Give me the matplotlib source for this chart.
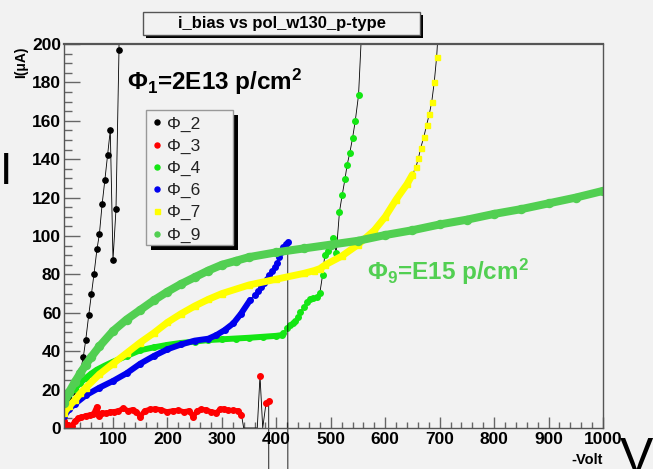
import matplotlib.pyplot as plt
from matplotlib.lines import Line2D
from matplotlib.patches import Rectangle
from matplotlib.ticker import MultipleLocator
from matplotlib.transforms import Bbox, TransformedBbox

plt.rcParams['font.family'] = ['Liberation Sans', 'DejaVu Sans']
plt.rcParams['mathtext.fontset'] = 'custom'
plt.rcParams['mathtext.rm'] = 'Liberation Sans'
plt.rcParams['mathtext.bf'] = 'Liberation Sans:bold'

# bias voltage (-V) and bias current (uA) for each fluence
v_phi2 = [10, 15, 20, 25, 30, 35, 40.5, 45.5, 50, 55.5, 60.5, 65, 70.5, 75, 80, 85, 90, 95, 100, 105.5, 111, 112.5]
i_phi2 = [8, 11, 15, 19, 23, 27, 30, 37, 46, 59, 70, 80, 93, 101, 116.5, 129, 142, 155, 87.5, 114, 197, 320]

v_phi3 = [10, 14, 18, 24, 30, 36, 42, 50, 58, 64, 70, 74, 80, 88, 95, 101, 110, 119, 128, 136, 143, 150, 158, 168,
          178, 188, 199, 210, 220, 230, 240, 247, 255, 262, 270, 280, 290, 297, 303, 312, 321, 330, 336, 340, 350, 365,
          370, 375, 381, 386, 388]
i_phi3 = [3.5, 1.8, 1.5, 1.2, 3.5, 5, 5.5, 6.5, 6.8, 7.2, 11, 6, 8, 7.6, 8.5, 8.5, 9, 10.2, 9, 9.6, 8.5, 5.9, 9, 9.7,
          10, 9.5, 8.5, 9, 9.2, 8.5, 9, 5.9, 9, 9.7, 9.5, 8.5, 8, 9.8, 10, 9.2, 9.2, 9, 6.8, 0, 0, 0,
          27.2, 0, 12.8, 14.2, -600]

v_phi4 = [10, 20, 30, 40, 50, 60, 70, 85, 100, 125, 150, 175, 200, 225, 250, 275, 300, 325, 350, 375, 400, 410,
          413, 419, 425, 430, 434, 440, 444, 450, 456, 462, 468, 474, 480, 485, 489, 495, 505, 510, 516, 521, 526,
          530, 535, 540, 545, 551, 558]
i_phi4 = [13.5, 17.5, 20.5, 23.5, 26, 28.3, 30.3, 32.5, 34.5, 37.5, 40.5, 42, 43.3, 44.3, 45, 45.8, 46.2, 46.6, 47,
          47.5, 48, 48.4, 49.5, 52, 53.5, 54.5, 55.5, 58, 60.6, 63, 65.8, 67, 67.5, 68.4, 70.5, 79.7, 90, 92.3, 99,
          91, 112.7, 121.4, 129.5, 137, 143.4, 151, 160, 173.4, 215]

v_phi6 = [10, 20, 30, 50, 75, 100, 125, 150, 175, 200, 225, 250, 275, 290, 305, 321, 335, 352, 360, 366, 371, 377,
          382, 387, 392, 397, 401, 405, 409, 413, 417, 421, 422]
i_phi6 = [6, 10, 12.5, 17, 21, 24.5, 28.5, 33.5, 37.5, 41, 43.5, 45.5, 46.5, 48.4, 51, 54.5, 59.5, 66.7, 69.5,
          71.5, 73.5, 75.5, 77.5, 79.5, 82, 84, 86, 89, 91.5, 94.4, 96, 97, -600]

v_phi7 = [10, 20, 30, 40, 50, 75, 100, 125, 150, 175, 200, 225, 250, 275, 300, 350, 400, 450, 470, 480, 490, 520,
          550, 580, 600, 620, 640, 650, 656.5, 661, 665, 671, 676, 681, 685.5, 690, 694.5, 699]
i_phi7 = [8, 11.5, 14.5, 18, 21, 28, 33.5, 39, 44.5, 49.5, 55, 59.5, 63.5, 67, 70, 74.5, 77.5, 80.5, 82, 83, 85,
          89.5, 95.5, 103, 110, 119, 127, 132, 136, 140.5, 145.7, 151.7, 157.8, 163.5, 170, 180, 193.4, 215]

v_phi9 = [10, 20, 30, 40, 50, 60, 75, 100, 125, 150, 175, 200, 225, 250, 275, 300, 325, 350, 400, 450, 500, 550,
          600, 650, 700, 750, 800, 850, 900, 950, 1000]
i_phi9 = [13, 19, 24, 28.5, 33, 37, 42.5, 50.5, 56.5, 61.5, 66.5, 71, 75, 78.5, 82, 85, 87, 89, 91.5, 93.5, 95.5,
          97.5, 100.5, 103, 106, 108.5, 111.5, 114, 117, 120, 123.5]

names = ['Φ_2', 'Φ_3', 'Φ_4', 'Φ_6', 'Φ_7', 'Φ_9']
x_ticks = [100, 200, 300, 400, 500, 600, 700, 800, 900, 1000]
y_ticks = [0, 20, 40, 60, 80, 100, 120, 140, 160, 180, 200]

W, H = 653, 469
BG = '#f2f2f2'
PHI9_GREEN = '#52cf52'


def px(x, y):
    # pixel position measured from the top left corner -> figure fraction
    return x / W, 1 - y / H


def box(x0, y0, x1, y1, **kw):
    fx, fy = px(x0, y1)
    fig.add_artist(Rectangle((fx, fy), (x1 - x0) / W, (y1 - y0) / H, transform=fig.transFigure, **kw))


fig = plt.figure(figsize=(W / 100, H / 100), dpi=100, facecolor=BG)
ax = fig.add_axes([64 / W, 1 - 428 / H, 539 / W, 384 / H], facecolor=BG)
ax.set_xlim(10, 1000)
ax.set_ylim(0, 200)

# the joining lines may leave through the bottom of the frame, not the top
below = TransformedBbox(Bbox.from_extents(0, -3, 1, 1), ax.transAxes)


def draw(v, i, color, marker, ms, band, dense_to):
    line, = ax.plot(v, i, color='black', lw=0.6)
    line.set_clip_box(below)
    # closely spaced points merge into one thick band
    n = len([x for x in v if x <= dense_to])
    if n > 1:
        ax.plot(v[:n], i[:n], color=color, lw=band, solid_capstyle='round', solid_joinstyle='round')
    # points sitting on or under zero are hidden by the frame
    shown = [(x, y) for x, y in zip(v, i) if y > 0]
    ax.plot([p[0] for p in shown], [p[1] for p in shown], ls='none', marker=marker, ms=ms, color=color, mec=color)


draw(v_phi2, i_phi2, 'black', 'o', 3.8, 0, 0)
draw(v_phi3, i_phi3, '#ff0000', 'o', 4, 3.6, 337)
draw(v_phi4, i_phi4, '#14e614', 'o', 4, 4.3, 411)
draw(v_phi6, i_phi6, '#0000ee', 'o', 4, 4.3, 355)
draw(v_phi7, i_phi7, '#ffff00', 's', 3.6, 5, 652)
draw(v_phi9, i_phi9, PHI9_GREEN, 'o', 5.8, 5.8, 1000)

# ROOT-style frame and inward ticks
for side in ax.spines.values():
    side.set_color('#555555')
    side.set_linewidth(1)
ax.spines['top'].set_linewidth(1.6)
ax.set_xticks(x_ticks, [str(t) for t in x_ticks], fontweight='bold', fontsize=12.5)
ax.set_yticks(y_ticks, [str(t) for t in y_ticks], fontweight='bold', fontsize=12.5)
ax.xaxis.set_minor_locator(MultipleLocator(20))
ax.yaxis.set_minor_locator(MultipleLocator(5))
ax.tick_params(axis='x', which='major', direction='in', length=8, width=1, color='#666666', pad=3)
ax.tick_params(axis='x', which='minor', direction='in', length=4.3, width=1, color='#666666')
ax.tick_params(axis='y', which='major', direction='in', length=11.5, width=1, color='#666666', pad=2)
ax.tick_params(axis='y', which='minor', direction='in', length=5.8, width=1, color='#666666')

# axis titles
fig.text(*px(21, 46), 'I(μA)', rotation=90, ha='center', va='top', fontsize=10, fontweight='bold')
fig.text(*px(603, 464), '-Volt', ha='right', va='baseline', fontsize=10.5, fontweight='bold')
fig.text(*px(0, 184), 'I', ha='left', va='baseline', fontsize=32)
fig.text(*px(620, 473), 'V', ha='left', va='baseline', fontsize=36)

# title box with shadow
box(146, 15, 423, 38, facecolor='black', edgecolor='none')
box(143, 12, 420, 35, facecolor=BG, edgecolor='#555555', lw=1)
fig.text(*px(281.5, 28), 'i_bias vs pol_w130_p-type', ha='center', va='baseline', fontsize=12, fontweight='bold')

# legend with shadow
box(151, 115, 238, 250, facecolor='black', edgecolor='none')
box(146, 110, 233, 245, facecolor=BG, edgecolor='#999999', lw=1)
colors = ['black', '#ff0000', '#14e614', '#0000ee', '#ffff00', PHI9_GREEN]
markers = ['o', 'o', 'o', 'o', 's', 'o']
for k, name in enumerate(names):
    y = 122.5 + 22.2 * k
    mx, my = px(157, y)
    fig.add_artist(Line2D([mx], [my], marker=markers[k], ms=3.6, color=colors[k], ls='none',
                          transform=fig.transFigure))
    fig.text(*px(167, y), name, ha='left', va='center_baseline', fontsize=12.5, color='#222222')

# fluence annotations
fig.text(*px(127, 90), r'$\mathbf{\Phi_1}$=2E13 p/cm$\mathbf{^2}$', ha='left', va='baseline',
         fontsize=17.5, fontweight='bold', color='black')
fig.text(*px(367, 280), r'$\mathbf{\Phi_9}$=E15 p/cm$\mathbf{^2}$', ha='left', va='baseline',
         fontsize=17.5, fontweight='bold', color=PHI9_GREEN)

plt.savefig('out.png', dpi=100, facecolor=BG)
